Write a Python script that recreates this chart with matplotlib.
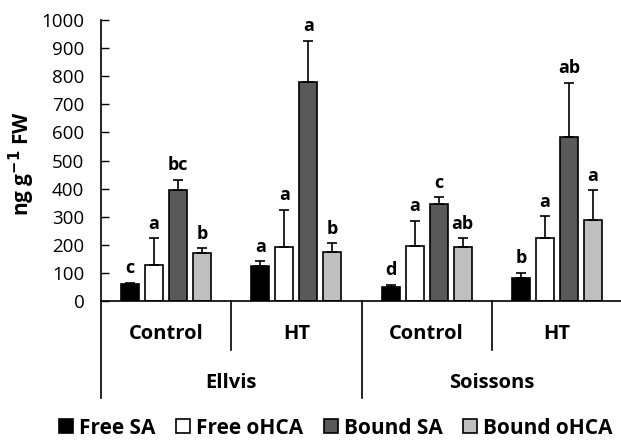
import matplotlib.pyplot as plt
import numpy as np

plt.rcParams['font.family'] = ['Open Sans', 'DejaVu Sans']

# groups (variety / treatment)
varieties = ['Ellvis', 'Soissons']
treatments = ['Control', 'HT', 'Control', 'HT']
series = ['Free SA', 'Free oHCA', 'Bound SA', 'Bound oHCA']

# mean values per series, in group order
free_sa = [59, 125, 51, 83]
free_ohca = [128, 192, 197, 225]
bound_sa = [396, 781, 346, 584]
bound_ohca = [170, 173, 191, 289]

# upper error (bar top to whisker top)
free_sa_err = [6, 17, 6, 18]
free_ohca_err = [95, 133, 89, 77]
bound_sa_err = [35, 145, 23, 193]
bound_ohca_err = [17, 33, 33, 105]

# significance letters
free_sa_lab = ['c', 'a', 'd', 'b']
free_ohca_lab = ['a', 'a', 'a', 'a']
bound_sa_lab = ['bc', 'a', 'c', 'ab']
bound_ohca_lab = ['b', 'b', 'ab', 'a']

means = [free_sa, free_ohca, bound_sa, bound_ohca]
errs = [free_sa_err, free_ohca_err, bound_sa_err, bound_ohca_err]
labs = [free_sa_lab, free_ohca_lab, bound_sa_lab, bound_ohca_lab]
colors = ['black', 'white', '#595959', '#bfbfbf']

fig = plt.figure(figsize=(6.21, 4.40), dpi=100)
ax = fig.add_axes([101/621, 139/440, 521/621, 281/440])

x = np.arange(len(treatments)) + 0.5
step = 0.184
width = 0.138

for i in range(4):
    xi = x + (i - 1.5) * step
    ax.bar(xi, means[i], width, color=colors[i], edgecolor='black',
           linewidth=1.2, label=series[i], zorder=2)
    ax.errorbar(xi, means[i], yerr=[np.zeros(4), errs[i]], fmt='none',
                ecolor='black', elinewidth=1.2, capsize=3.5, capthick=1.2,
                zorder=3)
    for xx, m, e, t in zip(xi, means[i], errs[i], labs[i]):
        ax.annotate(t, (xx, m + e), xytext=(0, 4), textcoords='offset points',
                    ha='center', va='bottom', fontsize=13, fontweight='bold')

ax.set_xlim(0, 4)
ax.set_ylim(0, 1000)
ax.set_yticks(np.arange(0, 1001, 100))
ax.tick_params(axis='y', direction='in', length=6, width=1, labelsize=13.5, pad=12)
ax.set_xticks([])
ax.spines['top'].set_visible(False)
ax.spines['right'].set_visible(False)
ax.spines['left'].set_linewidth(1.2)
ax.spines['bottom'].set_linewidth(1.2)

ax.set_ylabel(r'ng g$^{\mathbf{-1}}$ FW', fontsize=15, fontweight='bold', va='center')
ax.yaxis.set_label_coords(-0.152, 0.49)

# category axis below the plot
tr = ax.get_xaxis_transform()
for xs in [1, 3]:
    ax.plot([xs, xs], [0, -0.174], color='black', lw=1.2, transform=tr, clip_on=False)
for xs in [0, 2, 4]:
    ax.plot([xs, xs], [0, -0.345], color='black', lw=1.2, transform=tr, clip_on=False)
for xx, t in zip(x, treatments):
    ax.text(xx, -0.117, t, transform=tr, ha='center', va='center',
            fontsize=14.5, fontweight='bold')
for k, v in enumerate(varieties):
    ax.text(2 * k + 1, -0.292, v, transform=tr, ha='center', va='center',
            fontsize=14.5, fontweight='bold')

fig.legend(loc='center', bbox_to_anchor=(336/621, 1 - 428/440), ncol=4,
           frameon=False, handlelength=0.65, handleheight=0.65,
           handletextpad=0.3, columnspacing=1.0,
           prop={'weight': 'bold', 'size': 15})

fig.savefig('out.png', dpi=100)
